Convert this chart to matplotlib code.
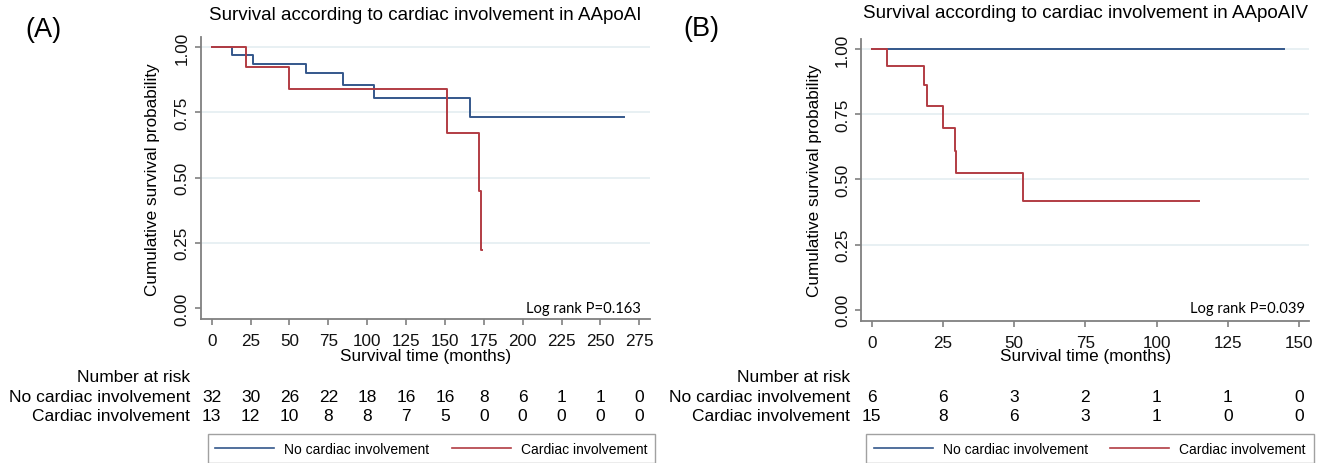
import matplotlib
matplotlib.use("Agg")
import matplotlib.pyplot as plt
import matplotlib.transforms as mtransforms

plt.rcParams['font.family'] = ['Liberation Sans', 'DejaVu Sans']

# ---------------- data ----------------
# Panel A (AApoAI)
a_no_time = [0, 13.3, 26.6, 60.5, 84.4, 104.3, 165.9, 265.3]
a_no_surv = [1.0, 0.969, 0.9375, 0.900, 0.854, 0.807, 0.733, 0.733]
a_car_time = [0, 21.9, 49.8, 151.3, 171.9, 172.9, 174.0]
a_car_surv = [1.0, 0.923, 0.839, 0.671, 0.447, 0.224, 0.224]
a_xticks = [0, 25, 50, 75, 100, 125, 150, 175, 200, 225, 250, 275]
a_risk_no = [32, 30, 26, 22, 18, 16, 16, 8, 6, 1, 1, 0]
a_risk_car = [13, 12, 10, 8, 8, 7, 5, 0, 0, 0, 0, 0]
a_title = "Survival according to cardiac involvement in AApoAI"
a_pval = "Log rank P=0.163"

# Panel B (AApoAIV)
b_no_time = [0, 144.7]
b_no_surv = [1.0, 1.0]
b_car_time = [0, 5.4, 18.4, 19.4, 25.0, 29.3, 29.6, 53.0, 114.8]
b_car_surv = [1.0, 0.933, 0.862, 0.783, 0.696, 0.61, 0.523, 0.417, 0.417]
b_xticks = [0, 25, 50, 75, 100, 125, 150]
b_risk_no = [6, 6, 3, 2, 1, 1, 0]
b_risk_car = [15, 8, 6, 3, 1, 0, 0]
b_title = "Survival according to cardiac involvement in AApoAIV"
b_pval = "Log rank P=0.039"

yticks = [0, 0.25, 0.5, 0.75, 1.0]
ytick_labels = ["0.00", "0.25", "0.50", "0.75", "1.00"]
group_labels = ["No cardiac involvement", "Cardiac involvement"]
ylabel = "Cumulative survival probability"
xlabel = "Survival time (months)"

# ---------------- style ----------------
W, H = 1327, 464
BLUE = '#34578B'
RED = '#B23C43'
GRID = '#E6EFF2'
AXC = '#808080'

fig = plt.figure(figsize=(W / 100, H / 100), dpi=100)


def px(x, y):
    return x / W, 1 - y / H


def panel(rect, xlim, xticks, no_t, no_s, car_t, car_s, risk_no, risk_car,
          title, title_xy, pval, pval_xy, letter, letter_xy, lab_x,
          ylab_x, legend_xy):
    l, t, r, b = rect
    ax = fig.add_axes([l / W, 1 - b / H, (r - l) / W, (b - t) / H])
    ax.set_xlim(*xlim)
    ax.set_ylim(-0.042, 1.038)
    ax.set_xticks(xticks)
    ax.set_yticks(yticks)
    ax.set_yticklabels(ytick_labels, rotation=90, va='center')
    for s in ['top', 'right']:
        ax.spines[s].set_visible(False)
    for s in ['left', 'bottom']:
        ax.spines[s].set_color(AXC)
        ax.spines[s].set_linewidth(1.3)
    ax.tick_params(axis='both', direction='out', length=4, width=1.2,
                   color=AXC, labelsize=12.3, labelcolor='#111111')
    ax.tick_params(axis='x', pad=6)
    ax.tick_params(axis='y', pad=4)
    ax.set_axisbelow(True)
    ax.yaxis.grid(True, color=GRID, lw=1.3)
    ax.get_ygridlines()[0].set_visible(False)

    l1, = ax.step(no_t, no_s, where='post', color=BLUE, lw=1.4,
                  label=group_labels[0])
    l2, = ax.step(car_t, car_s, where='post', color=RED, lw=1.4,
                  label=group_labels[1])

    ax.set_xlabel(xlabel, fontsize=12.3)
    ax.xaxis.label.set_va('center')
    ax.xaxis.set_label_coords(0.5, (b - 357) / (b - t))
    ax.set_ylabel(ylabel, fontsize=12.3)
    ax.yaxis.label.set_va('center')
    ax.yaxis.set_label_coords((ylab_x - l) / (r - l), 0.5)

    fig.text(*px(*title_xy), title, ha='center', va='center', fontsize=13.5)
    fig.text(*px(*letter_xy), letter, ha='left', va='center', fontsize=19.5)
    fig.text(*px(*pval_xy), pval, ha='right', va='baseline', fontsize=10.6,
             family=['Lato', 'DejaVu Sans'])

    # number at risk table
    tr = mtransforms.blended_transform_factory(ax.transData, fig.transFigure)
    fig.text(*px(lab_x, 378), "Number at risk", ha='right', va='center',
             fontsize=12.5)
    fig.text(*px(lab_x, 398), group_labels[0], ha='right', va='center',
             fontsize=12.5)
    fig.text(*px(lab_x, 417), group_labels[1], ha='right', va='center',
             fontsize=12.5)
    for xt, n1, n2 in zip(xticks, risk_no, risk_car):
        ax.text(xt, 1 - 398 / H, str(n1), transform=tr, ha='center',
                va='center', fontsize=12.5)
        ax.text(xt, 1 - 417 / H, str(n2), transform=tr, ha='center',
                va='center', fontsize=12.5)

    leg = fig.legend(handles=[l1, l2], loc='upper left',
                     bbox_to_anchor=px(*legend_xy), borderaxespad=0,
                     ncol=2, fontsize=10, handlelength=4.25,
                     handletextpad=0.72, columnspacing=1.6, borderpad=0.55,
                     fancybox=False, frameon=True)
    leg.get_frame().set_edgecolor('#8A8A8A')
    leg.get_frame().set_linewidth(1.0)
    for h in leg.get_lines():
        h.set_linewidth(1.2)
    return ax


panel((200.7, 38.3, 650.0, 320.0), (-7.1, 281.9), a_xticks,
      a_no_time, a_no_surv, a_car_time, a_car_surv, a_risk_no, a_risk_car,
      a_title, (425.4, 16), a_pval, (640.7, 313), "(A)", (25, 30), 190, 153,
      (207.5, 435))

panel((861.0, 40.0, 1309.3, 321.7), (-3.76, 153.6), b_xticks,
      b_no_time, b_no_surv, b_car_time, b_car_surv, b_risk_no, b_risk_car,
      b_title, (1085.5, 14), b_pval, (1305, 313), "(B)", (683, 29), 850, 814,
      (866.4, 435))

fig.savefig("out.png", dpi=100)
